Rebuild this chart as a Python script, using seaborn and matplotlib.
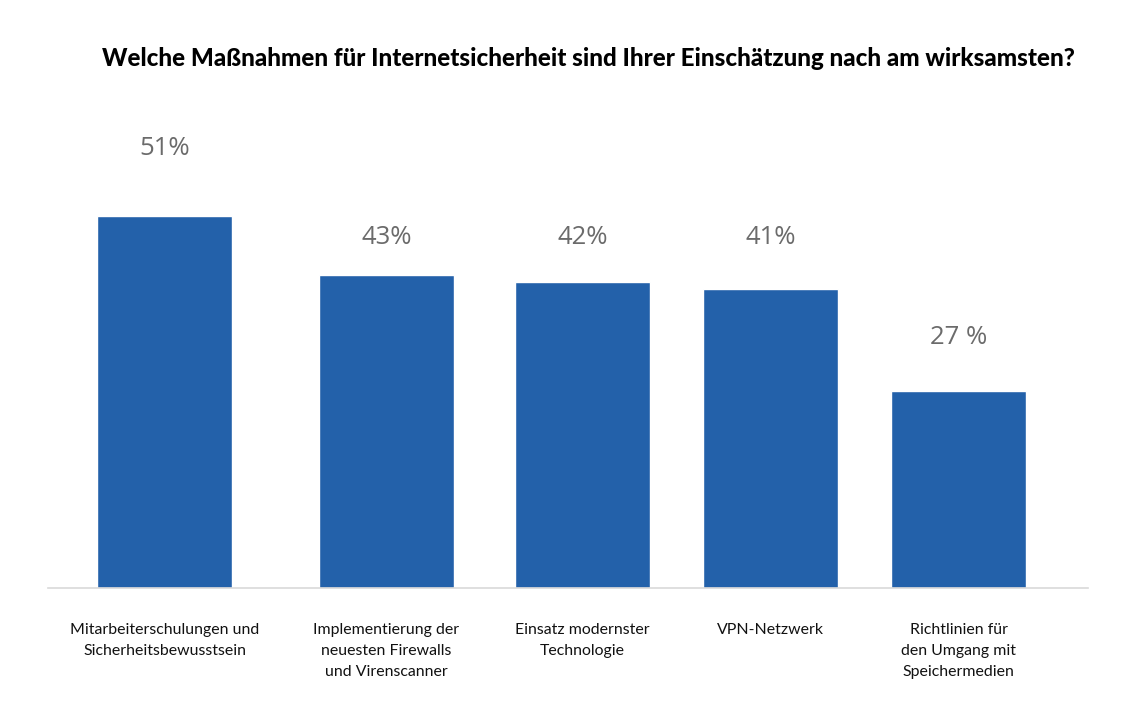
import matplotlib
matplotlib.use("Agg")
import matplotlib.pyplot as plt
import seaborn as sns
import pandas as pd

categories = [
    "Mitarbeiterschulungen und\nSicherheitsbewusstsein",
    "Implementierung der\nneuesten Firewalls\nund Virenscanner",
    "Einsatz modernster\nTechnologie",
    "VPN-Netzwerk",
    "Richtlinien für\nden Umgang mit\nSpeichermedien",
]
values = [51, 43, 42, 41, 27]
value_labels = ["51%", "43%", "42%", "41%", "27 %"]
title = "Welche Maßnahmen für Internetsicherheit sind Ihrer Einschätzung nach am wirksamsten?"

# layout (pixel-like positions of bar centres and label offsets)
x_pos = [164.5, 386.5, 582.5, 770.5, 958.5]
label_offsets = [9.3, 5.1, 6.1, 7.1, 7.4]

sns.set_theme(style="white")
plt.rcParams["font.family"] = ["Lato", "DejaVu Sans"]

W, H = 1136, 723
fig = plt.figure(figsize=(W / 100, H / 100), dpi=100)
ax_left, ax_right = 48, 1088
base_y, top_y = 588, 100
ax = fig.add_axes([ax_left / W, (H - base_y) / H, (ax_right - ax_left) / W, (base_y - top_y) / H])

df = pd.DataFrame({"x": x_pos, "v": values})
sns.barplot(data=df, x="x", y="v", native_scale=True, color="#2361AA",
            saturation=1, width=135 / 188, ax=ax)

px_per_unit = 7.29
ax.set_xlim(ax_left, ax_right)
ax.set_ylim(0, (base_y - top_y) / px_per_unit)

for xp, v, lab, off in zip(x_pos, values, value_labels, label_offsets):
    ax.text(xp, v + off, lab, ha="center", va="center", fontsize=18.5,
            color="#6b6b6b", family=["Open Sans", "DejaVu Sans"])

ax.set_xticks(x_pos)
ax.set_xticklabels(categories, fontsize=11.4, color="#111111", linespacing=1.65)
ax.tick_params(axis="x", length=0, pad=25)
ax.set_yticks([])
ax.set_xlabel("")
ax.set_ylabel("")
for s in ["top", "right", "left"]:
    ax.spines[s].set_visible(False)
ax.spines["bottom"].set_color("#d9d9d9")
ax.spines["bottom"].set_linewidth(1.2)

fig.text(588 / W, 1 - 58 / H, title, ha="center", va="center", fontsize=17.4,
         fontweight="black", color="#000000")

fig.savefig("out.png", dpi=100, facecolor="white")
